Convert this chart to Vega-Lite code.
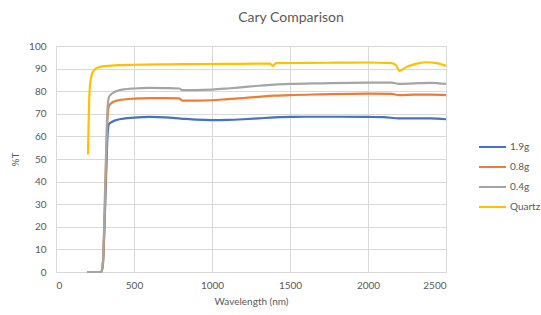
{
  "$schema": "https://vega.github.io/schema/vega-lite/v6.json",
  "width": 390,
  "height": 226,
  "autosize": {"type": "none"},
  "padding": {"left": 56, "top": 46, "right": 95, "bottom": 43},
  "background": "white",
  "title": {"text": "Cary Comparison", "fontSize": 14, "fontWeight": "normal", "color": "#595959", "font": "Lato", "dx": 40, "offset": 16},
  "config": {
    "view": {"stroke": null},
    "font": "Lato",
    "axis": {"labelColor": "#595959", "titleColor": "#595959", "labelFontSize": 10, "titleFontSize": 10, "titleFontWeight": "normal", "gridColor": "#D9D9D9", "gridWidth": 1, "ticks": false, "labelFont": "Lato", "titleFont": "Lato"}
  },
  "data": {"values": [
    {"s":"1.9g","w":200,"t":0},{"s":"1.9g","w":290,"t":0},{"s":"1.9g","w":300,"t":3},{"s":"1.9g","w":320,"t":40},{"s":"1.9g","w":330,"t":60},{"s":"1.9g","w":340,"t":65.5},{"s":"1.9g","w":360,"t":66.5},{"s":"1.9g","w":400,"t":67.5},{"s":"1.9g","w":500,"t":68.3},{"s":"1.9g","w":600,"t":68.6},{"s":"1.9g","w":700,"t":68.4},{"s":"1.9g","w":800,"t":67.9},{"s":"1.9g","w":900,"t":67.4},{"s":"1.9g","w":1000,"t":67.2},{"s":"1.9g","w":1100,"t":67.3},{"s":"1.9g","w":1200,"t":67.6},{"s":"1.9g","w":1300,"t":68.0},{"s":"1.9g","w":1400,"t":68.4},{"s":"1.9g","w":1500,"t":68.6},{"s":"1.9g","w":1600,"t":68.7},{"s":"1.9g","w":1800,"t":68.7},{"s":"1.9g","w":2000,"t":68.6},{"s":"1.9g","w":2100,"t":68.5},{"s":"1.9g","w":2200,"t":68.0},{"s":"1.9g","w":2300,"t":68.0},{"s":"1.9g","w":2400,"t":68.0},{"s":"1.9g","w":2500,"t":67.6},
    {"s":"0.8g","w":200,"t":0},{"s":"0.8g","w":290,"t":0},{"s":"0.8g","w":300,"t":3},{"s":"0.8g","w":320,"t":45},{"s":"0.8g","w":330,"t":68},{"s":"0.8g","w":340,"t":73.5},{"s":"0.8g","w":360,"t":75},{"s":"0.8g","w":400,"t":76},{"s":"0.8g","w":500,"t":76.7},{"s":"0.8g","w":600,"t":76.9},{"s":"0.8g","w":700,"t":76.9},{"s":"0.8g","w":790,"t":76.8},{"s":"0.8g","w":810,"t":75.8},{"s":"0.8g","w":900,"t":75.8},{"s":"0.8g","w":1000,"t":76.0},{"s":"0.8g","w":1100,"t":76.5},{"s":"0.8g","w":1200,"t":77.0},{"s":"0.8g","w":1300,"t":77.5},{"s":"0.8g","w":1400,"t":78.0},{"s":"0.8g","w":1500,"t":78.3},{"s":"0.8g","w":1700,"t":78.6},{"s":"0.8g","w":2000,"t":78.9},{"s":"0.8g","w":2150,"t":78.8},{"s":"0.8g","w":2200,"t":78.3},{"s":"0.8g","w":2300,"t":78.5},{"s":"0.8g","w":2400,"t":78.5},{"s":"0.8g","w":2500,"t":78.3},
    {"s":"0.4g","w":200,"t":0},{"s":"0.4g","w":290,"t":0},{"s":"0.4g","w":300,"t":4},{"s":"0.4g","w":320,"t":50},{"s":"0.4g","w":330,"t":72},{"s":"0.4g","w":340,"t":77.5},{"s":"0.4g","w":360,"t":79},{"s":"0.4g","w":400,"t":80.3},{"s":"0.4g","w":500,"t":81.2},{"s":"0.4g","w":600,"t":81.5},{"s":"0.4g","w":700,"t":81.4},{"s":"0.4g","w":790,"t":81.2},{"s":"0.4g","w":810,"t":80.5},{"s":"0.4g","w":900,"t":80.5},{"s":"0.4g","w":1000,"t":80.7},{"s":"0.4g","w":1100,"t":81.2},{"s":"0.4g","w":1200,"t":81.8},{"s":"0.4g","w":1300,"t":82.4},{"s":"0.4g","w":1400,"t":82.9},{"s":"0.4g","w":1500,"t":83.2},{"s":"0.4g","w":1700,"t":83.5},{"s":"0.4g","w":2000,"t":83.8},{"s":"0.4g","w":2150,"t":83.8},{"s":"0.4g","w":2200,"t":83.2},{"s":"0.4g","w":2300,"t":83.5},{"s":"0.4g","w":2400,"t":83.7},{"s":"0.4g","w":2500,"t":83.2},
    {"s":"Quartz","w":205,"t":52},{"s":"Quartz","w":215,"t":80},{"s":"Quartz","w":225,"t":86},{"s":"Quartz","w":240,"t":89},{"s":"Quartz","w":260,"t":90.2},{"s":"Quartz","w":300,"t":91},{"s":"Quartz","w":400,"t":91.5},{"s":"Quartz","w":500,"t":91.7},{"s":"Quartz","w":700,"t":91.9},{"s":"Quartz","w":900,"t":92},{"s":"Quartz","w":1100,"t":92.1},{"s":"Quartz","w":1370,"t":92.2},{"s":"Quartz","w":1390,"t":91.2},{"s":"Quartz","w":1410,"t":92.4},{"s":"Quartz","w":1600,"t":92.5},{"s":"Quartz","w":1800,"t":92.6},{"s":"Quartz","w":2000,"t":92.7},{"s":"Quartz","w":2150,"t":92.4},{"s":"Quartz","w":2180,"t":91.5},{"s":"Quartz","w":2200,"t":89},{"s":"Quartz","w":2250,"t":90.8},{"s":"Quartz","w":2300,"t":92},{"s":"Quartz","w":2370,"t":92.8},{"s":"Quartz","w":2450,"t":92.3},{"s":"Quartz","w":2500,"t":91.2}
  ]},
  "mark": {"type": "line", "strokeWidth": 2.2, "interpolate": "monotone"},
  "encoding": {
    "x": {"field": "w", "type": "quantitative", "title": "Wavelength (nm)", "scale": {"domain": [0, 2500], "nice": false}, "axis": {"values": [0, 500, 1000, 1500, 2000, 2500], "format": "d", "domain": true, "domainColor": "#D9D9D9", "labelPadding": 8, "titlePadding": 6}},
    "y": {"field": "t", "type": "quantitative", "title": "%T", "scale": {"domain": [0, 100], "nice": false}, "axis": {"values": [0,10,20,30,40,50,60,70,80,90,100], "domain": false, "labelPadding": 10, "titlePadding": 8}},
    "color": {"field": "s", "type": "nominal", "sort": ["1.9g","0.8g","0.4g","Quartz"], "scale": {"domain": ["1.9g","0.8g","0.4g","Quartz"], "range": ["#4472C4","#ED7D31","#A5A5A5","#FFC000"]},
      "legend": {"title": null, "orient": "none", "legendX": 422, "legendY": 94, "symbolType": "stroke", "symbolSize": 729, "symbolStrokeWidth": 2, "clipHeight": 14, "labelFontSize": 10, "labelColor": "#595959", "labelFont": "Lato", "rowPadding": 6, "labelOffset": 3}},
    "order": {"field": "w", "type": "quantitative"}
  }
}
